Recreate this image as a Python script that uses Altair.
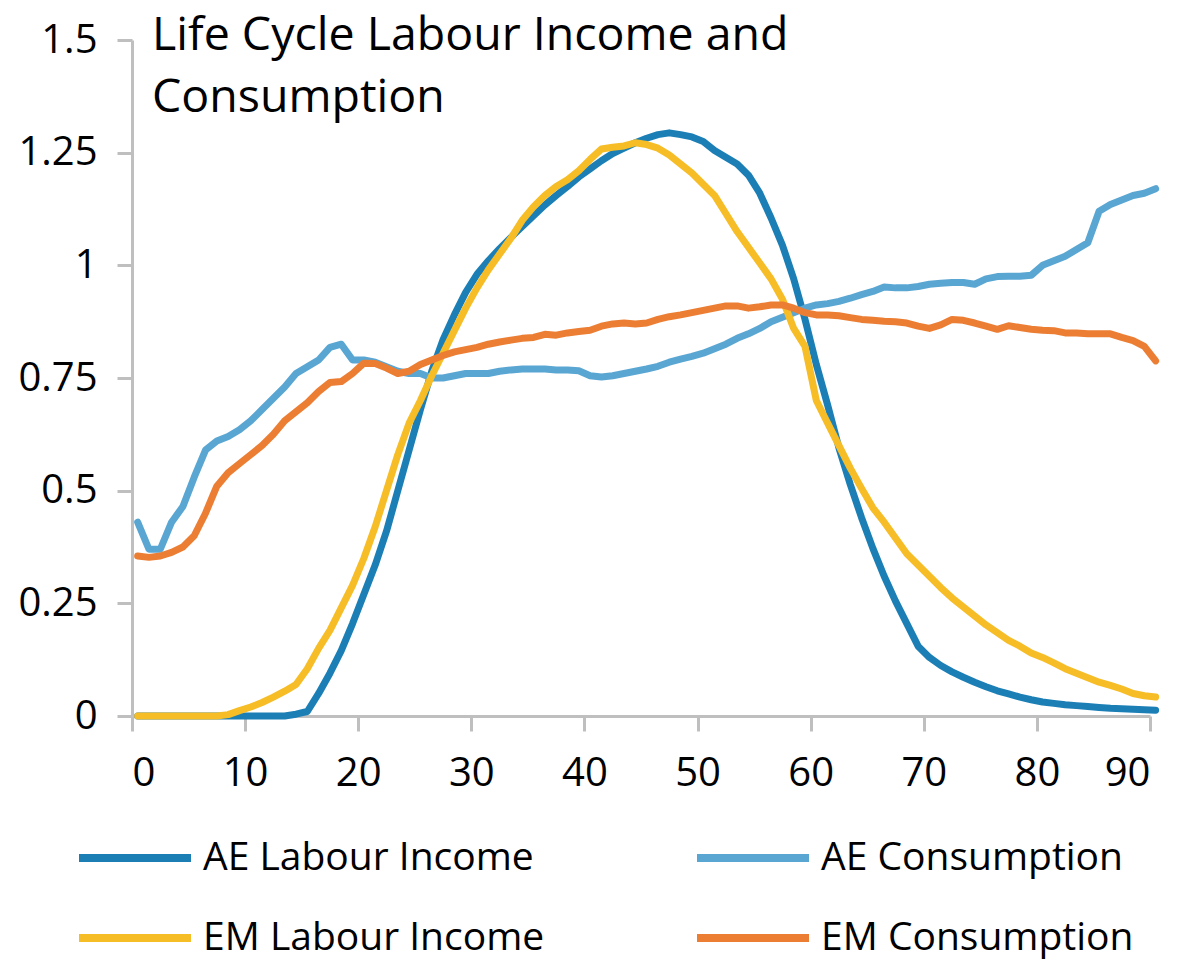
import altair as alt
import pandas as pd

ages = list(range(0, 91))

ae_labour = [0, 0, 0, 0, 0, 0, 0, 0, 0, 0, 0, 0, 0, 0, 0.004, 0.01, 0.05, 0.095, 0.145, 0.205,
             0.27, 0.335, 0.41, 0.50, 0.59, 0.68, 0.765, 0.835, 0.89, 0.94,
             0.98, 1.01, 1.037, 1.062, 1.086, 1.11, 1.134, 1.155, 1.175, 1.196,
             1.214, 1.232, 1.248, 1.26, 1.272, 1.282, 1.29, 1.294, 1.29, 1.285,
             1.275, 1.255, 1.24, 1.225, 1.2, 1.16, 1.105, 1.045, 0.97, 0.88,
             0.78, 0.69, 0.595, 0.514, 0.44, 0.372, 0.31, 0.255, 0.205, 0.155,
             0.13, 0.112, 0.098, 0.086, 0.075, 0.065, 0.056, 0.049, 0.042, 0.036,
             0.031, 0.028, 0.025, 0.023, 0.021, 0.019, 0.017, 0.016, 0.015, 0.014, 0.013]

ae_consumption = [0.43, 0.37, 0.37, 0.43, 0.465, 0.53, 0.59, 0.61, 0.62, 0.635,
                  0.655, 0.68, 0.705, 0.73, 0.76, 0.775, 0.79, 0.818, 0.825, 0.79,
                  0.79, 0.785, 0.775, 0.765, 0.76, 0.76, 0.75, 0.75, 0.755, 0.76,
                  0.76, 0.76, 0.765, 0.768, 0.77, 0.77, 0.77, 0.768, 0.768, 0.766,
                  0.755, 0.752, 0.755, 0.76, 0.765, 0.77, 0.776, 0.785, 0.792, 0.798,
                  0.805, 0.815, 0.825, 0.838, 0.848, 0.86, 0.875, 0.885, 0.895, 0.905,
                  0.912, 0.915, 0.92, 0.927, 0.935, 0.942, 0.952, 0.95, 0.95, 0.953,
                  0.958, 0.96, 0.962, 0.962, 0.958, 0.97, 0.975, 0.976, 0.976, 0.978,
                  1.0, 1.01, 1.02, 1.035, 1.05, 1.12, 1.135, 1.145, 1.155, 1.16, 1.17]

em_labour = [0, 0, 0, 0, 0, 0, 0, 0, 0.003, 0.012,
             0.02, 0.03, 0.042, 0.055, 0.07, 0.105, 0.15, 0.19, 0.24, 0.29,
             0.35, 0.42, 0.50, 0.58, 0.65, 0.70, 0.755, 0.805, 0.855, 0.905,
             0.95, 0.99, 1.025, 1.06, 1.10, 1.13, 1.155, 1.175, 1.19, 1.21,
             1.235, 1.258, 1.262, 1.265, 1.272, 1.268, 1.26, 1.245, 1.225, 1.205,
             1.18, 1.155, 1.115, 1.075, 1.04, 1.005, 0.97, 0.925, 0.86, 0.82,
             0.70, 0.65, 0.60, 0.55, 0.505, 0.462, 0.43, 0.395, 0.36, 0.335,
             0.31, 0.285, 0.262, 0.242, 0.222, 0.202, 0.185, 0.168, 0.155, 0.14,
             0.13, 0.118, 0.105, 0.095, 0.085, 0.075, 0.068, 0.06, 0.05, 0.045, 0.042]

em_consumption = [0.355, 0.352, 0.355, 0.363, 0.375, 0.40, 0.45, 0.51, 0.54, 0.56,
                  0.58, 0.60, 0.625, 0.655, 0.675, 0.695, 0.72, 0.74, 0.742, 0.76,
                  0.783, 0.782, 0.772, 0.76, 0.765, 0.78, 0.79, 0.80, 0.808, 0.813,
                  0.818, 0.825, 0.83, 0.834, 0.838, 0.84, 0.847, 0.845, 0.85, 0.853,
                  0.856, 0.865, 0.87, 0.872, 0.87, 0.872, 0.88, 0.886, 0.89, 0.895,
                  0.90, 0.905, 0.91, 0.91, 0.905, 0.908, 0.912, 0.912, 0.905, 0.895,
                  0.89, 0.89, 0.888, 0.884, 0.88, 0.878, 0.876, 0.875, 0.872, 0.865,
                  0.86, 0.868, 0.88, 0.878, 0.872, 0.865, 0.858, 0.866, 0.862, 0.858,
                  0.856, 0.855, 0.85, 0.85, 0.848, 0.848, 0.848, 0.84, 0.833, 0.82, 0.788]

series_names = ["AE Labour Income", "AE Consumption", "EM Labour Income", "EM Consumption"]
series_colors = ["#1b7fb6", "#5aa6d3", "#f6bd27", "#ec7e34"]
series_values = [ae_labour, ae_consumption, em_labour, em_consumption]

y_ticks = [0, 0.25, 0.5, 0.75, 1, 1.25, 1.5]
x_ticks = [0, 10, 20, 30, 40, 50, 60, 70, 80, 90]
title_lines = ["Life Cycle Labour Income and", "Consumption"]

rows = []
for name, vals in zip(series_names, series_values):
    for a, v in zip(ages, vals):
        rows.append({"age": a, "value": v, "series": name})
df = pd.DataFrame(rows)

FONT = "Open Sans"
AXIS_GRAY = "#bfbfbf"

lines = alt.Chart(df).transform_calculate(
    pos="datum.age + 0.5"
).mark_line(strokeWidth=7, strokeCap="round", strokeJoin="round").encode(
    x=alt.X("pos:Q", scale=alt.Scale(domain=[0, 90], nice=False),
            axis=alt.Axis(values=x_ticks, format="d", title=None, grid=False,
                          domainColor=AXIS_GRAY, domainWidth=3, tickColor=AXIS_GRAY,
                          tickWidth=3, tickSize=15, labelFont=FONT, labelFontSize=40,
                          labelColor="black", labelPadding=22)),
    y=alt.Y("value:Q", scale=alt.Scale(domain=[0, 1.5], nice=False),
            axis=alt.Axis(values=y_ticks, labelExpr="datum.value + ''", title=None,
                          grid=False, domainColor=AXIS_GRAY, domainWidth=3,
                          tickColor=AXIS_GRAY, tickWidth=3, tickSize=15, labelFont=FONT,
                          labelFontSize=40, labelColor="black", labelPadding=20)),
    color=alt.Color("series:N",
                    scale=alt.Scale(domain=series_names, range=series_colors),
                    legend=alt.Legend(title=None, orient="none", legendX=-57, legendY=758,
                                      columns=2, direction="horizontal",
                                      symbolType="stroke", symbolSize=12544,
                                      symbolStrokeWidth=8, labelFont=FONT,
                                      labelFontSize=39, labelColor="black",
                                      labelOffset=8, rowPadding=-41, columnPadding=136,
                                      labelLimit=600)),
)

title = alt.Chart(pd.DataFrame({"t": [0]})).mark_text(
    text=title_lines, align="left", baseline="alphabetic", font=FONT,
    fontSize=46.5, lineHeight=62, color="black"
).encode(x=alt.value(20), y=alt.value(10))

chart = alt.layer(lines, title).properties(
    width=1018, height=676,
    padding={"left": 124, "top": 32, "right": 20, "bottom": 244},
    autosize=alt.AutoSizeParams(type="none"),
).configure_view(stroke=None)

chart.save("out.html", embed_options={"renderer": "svg", "actions": False})
